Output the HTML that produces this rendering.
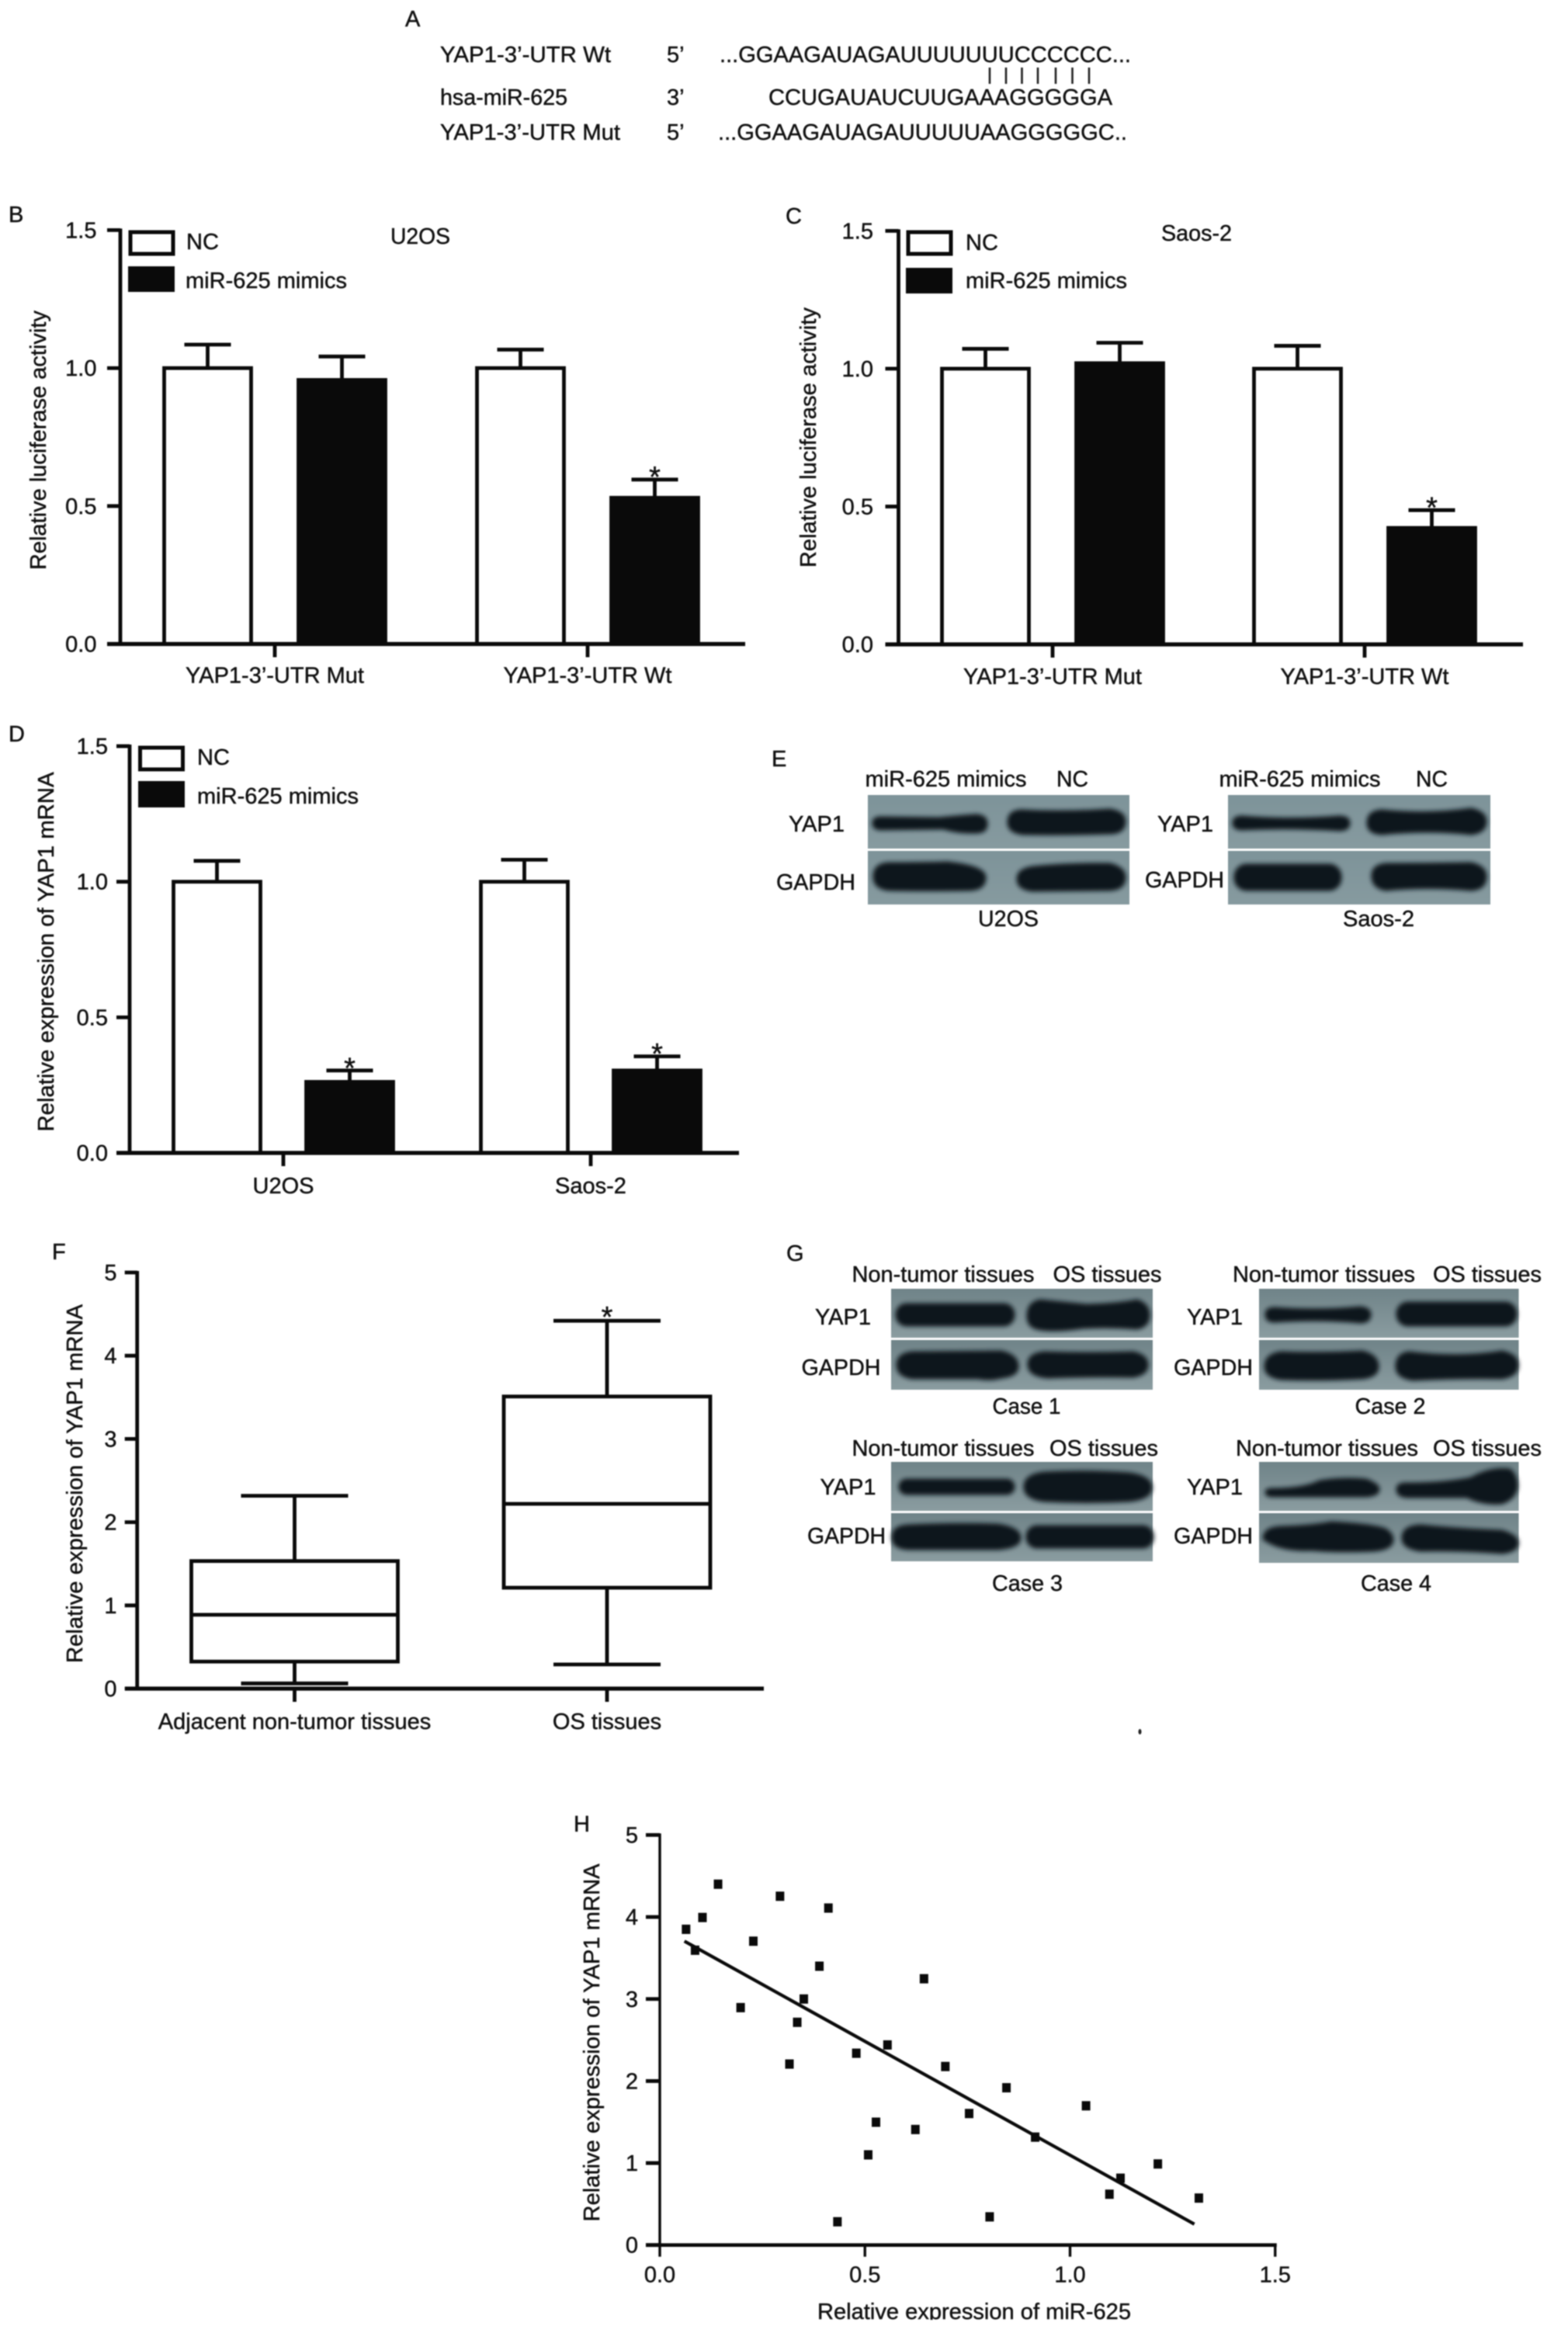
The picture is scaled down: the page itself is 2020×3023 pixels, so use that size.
<!DOCTYPE html>
<html lang="en">
<head>
<meta charset="utf-8">
<title>YAP1 and miR-625 figure</title>
<style>
html,body{margin:0;padding:0;background:#fff;}
svg{display:block;filter:blur(0.7px);}
text{font-family:"Liberation Sans",Arial,sans-serif;font-size:29px;fill:#101010;stroke:#101010;stroke-width:0.45px;}
.band{fill:#10141a;stroke:#10141a;stroke-width:3;filter:url(#soft);}
</style>
</head>
<body>
<svg id="figure" xmlns="http://www.w3.org/2000/svg" width="2020" height="3023" viewBox="0 0 2020 3023">
<defs>
<filter id="soft" x="-20%" y="-40%" width="140%" height="180%"><feGaussianBlur stdDeviation="3"/></filter>
<linearGradient id="blotE" x1="0" y1="0" x2="0" y2="1"><stop offset="0" stop-color="#7d9399"/><stop offset="1" stop-color="#869a9f"/></linearGradient>
<linearGradient id="blotG" x1="0" y1="0" x2="0" y2="1"><stop offset="0" stop-color="#6f8388"/><stop offset="1" stop-color="#8a9ca0"/></linearGradient>
</defs>
<rect width="2020" height="3023" fill="#fff"/>

<!-- Panel A -->
<g>
<text x="522" y="34">A</text>
<text x="567" y="80" textLength="220" lengthAdjust="spacingAndGlyphs">YAP1-3’-UTR Wt</text>
<text x="567" y="135" textLength="164" lengthAdjust="spacingAndGlyphs">hsa-miR-625</text>
<text x="567" y="180" textLength="232" lengthAdjust="spacingAndGlyphs">YAP1-3’-UTR Mut</text>
<text x="859" y="80">5’</text>
<text x="859" y="135">3’</text>
<text x="859" y="180">5’</text>
<text x="927" y="80" textLength="530" lengthAdjust="spacingAndGlyphs">...GGAAGAUAGAUUUUUUUCCCCCC...</text>
<text x="990" y="135" textLength="443" lengthAdjust="spacingAndGlyphs">CCUGAUAUCUUGAAAGGGGGA</text>
<text x="925" y="180" textLength="527" lengthAdjust="spacingAndGlyphs">...GGAAGAUAGAUUUUUAAGGGGGC..</text>
<path d="M1275 87V108M1296 87V108M1316.5 87V108M1337 87V108M1360 87V108M1381.5 87V108M1403 87V108" stroke="#222" stroke-width="2.6" fill="none"/>
</g>

<!-- Panel letters -->
<text x="11" y="286">B</text>
<text x="1012" y="288">C</text>
<text x="11" y="955">D</text>
<text x="994" y="987">E</text>
<text x="67" y="1622">F</text>
<text x="1013" y="1624">G</text>
<text x="739" y="2359">H</text>

<!-- Panel B static -->
<g>
<rect x="168" y="299" width="55" height="28" fill="#fff" stroke="#0a0a0a" stroke-width="5"/>
<rect x="165" y="343" width="60" height="33" fill="#0a0a0a"/>
<text x="240" y="321">NC</text>
<text x="239" y="371" textLength="208" lengthAdjust="spacingAndGlyphs">miR-625 mimics</text>
<text x="503" y="314" textLength="77" lengthAdjust="spacingAndGlyphs">U2OS</text>
<text x="59" y="567" text-anchor="middle" transform="rotate(-90 59 567)" textLength="334" lengthAdjust="spacingAndGlyphs">Relative luciferase activity</text>
</g>

<!-- Panel C static -->
<g>
<rect x="1170" y="299" width="55" height="28" fill="#fff" stroke="#0a0a0a" stroke-width="5"/>
<rect x="1167" y="345" width="60" height="33" fill="#0a0a0a"/>
<text x="1244" y="322">NC</text>
<text x="1244" y="371" textLength="208" lengthAdjust="spacingAndGlyphs">miR-625 mimics</text>
<text x="1496" y="310" textLength="91" lengthAdjust="spacingAndGlyphs">Saos-2</text>
<text x="1051" y="563.5" text-anchor="middle" transform="rotate(-90 1051 563.5)" textLength="335" lengthAdjust="spacingAndGlyphs">Relative luciferase activity</text>
</g>

<!-- Panel D static -->
<g>
<rect x="180.500" y="963" width="55" height="28" fill="#fff" stroke="#0a0a0a" stroke-width="5"/>
<rect x="178" y="1006" width="60" height="34" fill="#0a0a0a"/>
<text x="254" y="985">NC</text>
<text x="254" y="1035" textLength="208" lengthAdjust="spacingAndGlyphs">miR-625 mimics</text>
<text x="69" y="1226" text-anchor="middle" transform="rotate(-90 69 1226)" textLength="463" lengthAdjust="spacingAndGlyphs">Relative expression of YAP1 mRNA</text>
</g>

<!-- Panel E western blots -->
<g>
<text x="1114.500" y="1013" textLength="208" lengthAdjust="spacingAndGlyphs">miR-625 mimics</text>
<text x="1361" y="1013" textLength="41" lengthAdjust="spacingAndGlyphs">NC</text>
<text x="1570.500" y="1013" textLength="208" lengthAdjust="spacingAndGlyphs">miR-625 mimics</text>
<text x="1824" y="1013" textLength="41" lengthAdjust="spacingAndGlyphs">NC</text>
<text x="1016" y="1071" textLength="72" lengthAdjust="spacingAndGlyphs">YAP1</text>
<text x="1000" y="1146" textLength="102" lengthAdjust="spacingAndGlyphs">GAPDH</text>
<text x="1491" y="1071" textLength="72" lengthAdjust="spacingAndGlyphs">YAP1</text>
<text x="1475" y="1143" textLength="102" lengthAdjust="spacingAndGlyphs">GAPDH</text>
<text x="1260" y="1193" textLength="78" lengthAdjust="spacingAndGlyphs">U2OS</text>
<text x="1730" y="1193" textLength="92" lengthAdjust="spacingAndGlyphs">Saos-2</text>
<rect x="1118" y="1024" width="337" height="69" fill="url(#blotE)"/>
<rect x="1118" y="1096" width="337" height="69" fill="url(#blotE)"/>
<rect x="1582" y="1024" width="338" height="69" fill="url(#blotE)"/>
<rect x="1582" y="1096" width="338" height="69" fill="url(#blotE)"/>
<path class="band" d="M1125 1060Q1125 1053 1135 1053L1210 1054Q1240 1051 1258 1050Q1271 1051 1271 1061Q1271 1072 1258 1072Q1235 1073 1215 1067L1135 1068Q1125 1068 1125 1060Z"/>
<path class="band" d="M1299 1059Q1299 1045 1315 1044Q1370 1047 1430 1043Q1449 1046 1449 1058Q1449 1072 1432 1073Q1370 1075 1318 1074Q1299 1072 1299 1059Z"/>
<path class="band" d="M1126 1129Q1126 1113 1145 1112Q1190 1112 1220 1111Q1269 1116 1269 1130Q1269 1145 1250 1146Q1190 1147 1145 1146Q1126 1144 1126 1129Z"/>
<path class="band" d="M1311 1132Q1311 1120 1330 1117Q1380 1112 1430 1113Q1449 1118 1449 1130Q1449 1145 1430 1146L1330 1147Q1311 1145 1311 1132Z"/>
<path class="band" d="M1589 1060Q1589 1052 1600 1052Q1660 1057 1725 1052Q1738 1052 1738 1060Q1738 1069 1725 1069Q1660 1065 1600 1068Q1589 1068 1589 1060Z"/>
<path class="band" d="M1762 1060Q1762 1045 1780 1044Q1840 1050 1895 1042Q1914 1046 1914 1058Q1914 1072 1895 1074Q1840 1068 1780 1074Q1762 1073 1762 1060Z"/>
<rect class="band" x="1591" y="1114" width="136" height="32" rx="15"/>
<path class="band" d="M1768 1128Q1768 1115 1785 1113Q1840 1113 1895 1112Q1914 1116 1914 1129Q1914 1145 1895 1146Q1840 1141 1785 1146Q1768 1143 1768 1128Z"/>
</g>

<!-- Panel F static -->
<text x="106" y="1911" text-anchor="middle" transform="rotate(-90 106 1911)" textLength="462" lengthAdjust="spacingAndGlyphs">Relative expression of YAP1 mRNA</text>

<!-- Panel G western blots -->
<g>
<text x="1097.500" y="1651" textLength="235" lengthAdjust="spacingAndGlyphs">Non-tumor tissues</text>
<text x="1356.500" y="1651" textLength="140" lengthAdjust="spacingAndGlyphs">OS tissues</text>
<text x="1588" y="1651" textLength="235" lengthAdjust="spacingAndGlyphs">Non-tumor tissues</text>
<text x="1846" y="1651" textLength="140" lengthAdjust="spacingAndGlyphs">OS tissues</text>
<text x="1097.500" y="1875" textLength="235" lengthAdjust="spacingAndGlyphs">Non-tumor tissues</text>
<text x="1352" y="1875" textLength="140" lengthAdjust="spacingAndGlyphs">OS tissues</text>
<text x="1592" y="1875" textLength="235" lengthAdjust="spacingAndGlyphs">Non-tumor tissues</text>
<text x="1846" y="1875" textLength="140" lengthAdjust="spacingAndGlyphs">OS tissues</text>
<text x="1050" y="1706" textLength="72" lengthAdjust="spacingAndGlyphs">YAP1</text>
<text x="1032.500" y="1771" textLength="102" lengthAdjust="spacingAndGlyphs">GAPDH</text>
<text x="1529" y="1706" textLength="72" lengthAdjust="spacingAndGlyphs">YAP1</text>
<text x="1512" y="1771" textLength="102" lengthAdjust="spacingAndGlyphs">GAPDH</text>
<text x="1056.500" y="1925" textLength="72" lengthAdjust="spacingAndGlyphs">YAP1</text>
<text x="1040" y="1988" textLength="101" lengthAdjust="spacingAndGlyphs">GAPDH</text>
<text x="1529" y="1925" textLength="72" lengthAdjust="spacingAndGlyphs">YAP1</text>
<text x="1512" y="1988" textLength="102" lengthAdjust="spacingAndGlyphs">GAPDH</text>
<text x="1278.500" y="1821" textLength="88" lengthAdjust="spacingAndGlyphs">Case 1</text>
<text x="1745.500" y="1821" textLength="91" lengthAdjust="spacingAndGlyphs">Case 2</text>
<text x="1278" y="2049" textLength="91" lengthAdjust="spacingAndGlyphs">Case 3</text>
<text x="1753" y="2049" textLength="91" lengthAdjust="spacingAndGlyphs">Case 4</text>
<rect x="1148" y="1660" width="337" height="63" fill="url(#blotG)"/>
<rect x="1148" y="1726" width="337" height="64" fill="url(#blotG)"/>
<rect x="1622" y="1660" width="334.500" height="63" fill="url(#blotG)"/>
<rect x="1622" y="1726" width="334.500" height="64" fill="url(#blotG)"/>
<rect x="1148" y="1883" width="337" height="63" fill="url(#blotG)"/>
<rect x="1148" y="1949" width="337" height="62" fill="url(#blotG)"/>
<rect x="1622" y="1883" width="334.500" height="63" fill="url(#blotG)"/>
<rect x="1622" y="1949" width="334.500" height="64" fill="url(#blotG)"/>
<rect class="band" x="1155" y="1680" width="151" height="27" rx="13"/>
<path class="band" d="M1324 1695Q1324 1678 1340 1675Q1370 1678 1400 1681Q1440 1680 1465 1675Q1480 1680 1480 1694Q1480 1708 1465 1711Q1430 1708 1395 1710Q1360 1715 1340 1712Q1324 1710 1324 1695Z"/>
<path class="band" d="M1156 1758Q1156 1744 1175 1742L1290 1741Q1311 1746 1311 1760Q1311 1772 1290 1774Q1275 1778 1260 1775L1175 1775Q1156 1772 1156 1758Z"/>
<path class="band" d="M1325 1757Q1325 1744 1345 1742Q1400 1744 1460 1742Q1478 1746 1478 1758Q1478 1770 1460 1773Q1400 1772 1350 1774Q1325 1772 1325 1757Z"/>
<path class="band" d="M1631 1693Q1631 1685 1642 1685Q1700 1689 1752 1684Q1765 1685 1765 1693Q1765 1703 1752 1703Q1700 1698 1642 1702Q1631 1702 1631 1693Z"/>
<rect class="band" x="1800" y="1678" width="153" height="29" rx="14"/>
<path class="band" d="M1630 1760Q1630 1745 1650 1742Q1700 1744 1755 1741Q1775 1746 1775 1760Q1775 1773 1755 1775Q1700 1778 1650 1776Q1630 1773 1630 1760Z"/>
<path class="band" d="M1799 1760Q1799 1744 1815 1742Q1880 1750 1935 1741Q1955 1745 1955 1758Q1955 1772 1935 1775Q1880 1774 1820 1777Q1799 1774 1799 1760Z"/>
<rect class="band" x="1159" y="1906" width="147" height="18" rx="9"/>
<path class="band" d="M1320 1915Q1320 1900 1345 1897Q1400 1894 1455 1898Q1483 1902 1483 1916Q1483 1930 1455 1933Q1400 1936 1345 1933Q1320 1930 1320 1915Z"/>
<path class="band" d="M1150 1980Q1150 1966 1170 1965Q1230 1962 1285 1964Q1314 1968 1314 1981Q1314 1993 1285 1995L1170 1995Q1150 1994 1150 1980Z"/>
<rect class="band" x="1323" y="1966" width="162" height="27" rx="13"/>
<path class="band" d="M1631 1922Q1631 1918 1640 1918Q1680 1918 1700 1908Q1730 1903 1760 1906Q1776 1912 1776 1918Q1776 1926 1760 1927L1640 1927Q1631 1927 1631 1922Z"/>
<path class="band" d="M1800 1918Q1800 1910 1815 1911Q1860 1911 1895 1904Q1920 1890 1945 1893Q1954 1900 1954 1915Q1952 1930 1935 1936Q1910 1938 1890 1928L1815 1928Q1800 1928 1800 1918Z"/>
<path class="band" d="M1628 1982Q1628 1968 1650 1967Q1690 1966 1715 1961Q1770 1964 1785 1970Q1794 1976 1794 1983Q1794 1995 1770 1997Q1720 1999 1690 1996Q1650 1998 1628 1982Z"/>
<path class="band" d="M1807 1981Q1807 1966 1830 1965Q1880 1970 1935 1972Q1955 1978 1955 1987Q1955 1998 1935 2000Q1880 1996 1830 1997Q1807 1994 1807 1981Z"/>
</g>
<ellipse cx="1468.500" cy="2230.500" rx="2" ry="3.500" fill="#222"/>

<!-- Panel H static -->
<text x="772" y="2631" text-anchor="middle" transform="rotate(-90 772 2631)" textLength="461" lengthAdjust="spacingAndGlyphs">Relative expression of YAP1 mRNA</text>
<text x="1053" y="2987" textLength="404" lengthAdjust="spacingAndGlyphs">Relative expression of miR-625</text>
<rect x="1040" y="2988" width="430" height="20" fill="#fff"/>

<g id="charts"></g>
</svg>

<script>
// Panel B data
const categoriesB = ["YAP1-3’-UTR Mut", "YAP1-3’-UTR Wt"];
const ncB = [1.0, 1.0];
const ncUpperB = [1.085, 1.067];
const mimicsB = [0.957, 0.53];
const mimicsUpperB = [1.042, 0.596];
const starsB = [false, true];

// Panel C data
const categoriesC = ["YAP1-3’-UTR Mut", "YAP1-3’-UTR Wt"];
const ncC = [1.0, 1.0];
const ncUpperC = [1.072, 1.083];
const mimicsC = [1.02, 0.4225];
const mimicsUpperC = [1.094, 0.487];
const starsC = [false, true];

// Panel D data
const categoriesD = ["U2OS", "Saos-2"];
const ncD = [1.0, 1.0];
const ncUpperD = [1.077, 1.081];
const mimicsD = [0.262, 0.304];
const mimicsUpperD = [0.304, 0.356];
const starsD = [true, true];

// Shared bar chart ticks
const barTickValues = [0, 0.5, 1, 1.5];
const barTickLabels = ["0.0", "0.5", "1.0", "1.5"];

// Panel F data
const boxCategories = ["Adjacent non-tumor tissues", "OS tissues"];
const boxWhiskerHigh = [2.317, 4.42];
const boxQ3 = [1.533, 3.51];
const boxMedian = [0.8875, 2.22];
const boxQ1 = [0.325, 1.2125];
const boxWhiskerLow = [0.0625, 0.29];
const boxStars = [false, true];

// Panel H data
const scatterX = [0.064, 0.086, 0.104, 0.142, 0.197, 0.228, 0.293, 0.316, 0.335, 0.351, 0.389, 0.411, 0.433, 0.479, 0.508, 0.527, 0.555, 0.623, 0.644, 0.696, 0.754, 0.804, 0.845, 0.915, 1.039, 1.096, 1.123, 1.214, 1.314];
const scatterY = [3.85, 3.595, 3.994, 4.40, 2.895, 3.705, 4.253, 2.207, 2.716, 3.0, 3.40, 4.109, 0.284, 2.339, 1.10, 1.498, 2.44, 1.409, 3.247, 2.177, 1.604, 0.344, 1.918, 1.316, 1.698, 0.62, 0.815, 0.989, 0.573];
const fitLineX = [0.06, 1.303];
const fitLineY = [3.705, 0.255];
const xTickValuesH = [0, 0.5, 1, 1.5];
const xTickLabelsH = ["0.0", "0.5", "1.0", "1.5"];
const yTickValues05 = [0, 1, 2, 3, 4, 5];
const yTickLabels05 = ["0", "1", "2", "3", "4", "5"];

const SVG_NS = "http://www.w3.org/2000/svg";
const root = document.getElementById("charts");

function make(parent, tag, attrs, content) {
  const node = document.createElementNS(SVG_NS, tag);
  Object.keys(attrs).forEach(function (k) { node.setAttribute(k, attrs[k]); });
  if (content !== undefined) node.textContent = content;
  parent.appendChild(node);
  return node;
}

function line(parent, x1, y1, x2, y2, width) {
  return make(parent, "line", { x1: x1, y1: y1, x2: x2, y2: y2, stroke: "#0a0a0a", "stroke-width": width || 4.8 });
}

function drawYTicks(g, values, labels, yScale, axisX, tickLen, labelRight) {
  values.forEach(function (v, i) {
    const t = line(g, axisX - tickLen, yScale(v), axisX, yScale(v));
    
    
    const lab = make(g, "text", { x: labelRight, y: yScale(v) + 10, "text-anchor": "end" }, labels[i]);
    
    
  });
}

function drawStar(g, x, yPx, offset) {
  const s = make(g, "text", { x: x, y: yPx - offset + 22, "text-anchor": "middle", "font-size": "38", style: "font-size:38px" }, "*");
  
  
}

function drawBarSeries(g, cx, value, upper, yScale, baseY, filled) {
  const half = 56;
  const cap = line(g, cx - 30, yScale(upper), cx + 30, yScale(upper));
  
  
  const stem = line(g, cx, yScale(upper), cx, yScale(value));
  
  
  const bar = make(g, "rect", {
    x: cx - half, y: yScale(value), width: half * 2, height: baseY - yScale(value),
    fill: filled ? "#0a0a0a" : "#fff", stroke: "#0a0a0a", "stroke-width": 4.8
  });
  
  
}

function drawBarChart(name, cats, nc, ncUp, mim, mimUp, stars, o) {
  const g = make(root, "g", {});
  
  
  const yScale = function (v) { return o.y0 - v * o.yUnit; };
  cats.forEach(function (c, i) {
    const groupX = o.groups[0] + i * (o.groups[1] - o.groups[0]);
    drawBarSeries(g, groupX - o.offset, nc[i], ncUp[i], yScale, o.y0, false);
    drawBarSeries(g, groupX + o.offset, mim[i], mimUp[i], yScale, o.y0, true);
    if (stars[i]) drawStar(g, groupX + o.offset, yScale(mimUp[i]), 12.5);
    const t = line(g, groupX, o.y0, groupX, o.y0 + 17);
    
    
    const lab = make(g, "text", { x: groupX, y: o.y0 + o.labelDy, "text-anchor": "middle" }, c);
    
    
  });
  const yAxis = line(g, o.axisX, yScale(1.5) - 2, o.axisX, o.y0 + 2);
  
  
  const xAxis = line(g, o.axisX - 17, o.y0, o.xEnd, o.y0, 5.2);
  
  
  drawYTicks(g, barTickValues, barTickLabels, yScale, o.axisX, 17, o.labelRight);
}

drawBarChart("chart-b", categoriesB, ncB, ncUpperB, mimicsB, mimicsUpperB, starsB,
  { y0: 829.5, yUnit: 355.4, axisX: 155, xEnd: 960, groups: [354, 757], offset: 86.5, labelDy: 50, labelRight: 124.5 });
drawBarChart("chart-c", categoriesC, ncC, ncUpperC, mimicsC, mimicsUpperC, starsC,
  { y0: 830, yUnit: 355.1, axisX: 1157.5, xEnd: 1962, groups: [1356, 1758], offset: 86.5, labelDy: 51, labelRight: 1125 });
drawBarChart("chart-d", categoriesD, ncD, ncUpperD, mimicsD, mimicsUpperD, starsD,
  { y0: 1485, yUnit: 349.3, axisX: 167, xEnd: 952, groups: [365, 761], offset: 85.5, labelDy: 52, labelRight: 139 });

// Panel F box plot
(function () {
  const g = make(root, "g", {});
  
  
  const y0 = 2175, unit = 107.2, axisX = 176.7;
  const centers = [379.5, 782];
  const yScale = function (v) { return y0 - v * unit; };
  boxCategories.forEach(function (c, i) {
    const cx = centers[i];
    const whisker = line(g, cx, yScale(boxWhiskerHigh[i]), cx, yScale(boxWhiskerLow[i]));
    
    
    const capHigh = line(g, cx - 69, yScale(boxWhiskerHigh[i]), cx + 69, yScale(boxWhiskerHigh[i]));
    
    
    const capLow = line(g, cx - 69, yScale(boxWhiskerLow[i]), cx + 69, yScale(boxWhiskerLow[i]));
    
    
    const box = make(g, "rect", {
      x: cx - 133, y: yScale(boxQ3[i]), width: 266, height: yScale(boxQ1[i]) - yScale(boxQ3[i]),
      fill: "#fff", stroke: "#0a0a0a", "stroke-width": 4.8
    });
    
    
    const med = line(g, cx - 133, yScale(boxMedian[i]), cx + 133, yScale(boxMedian[i]));
    
    
    if (boxStars[i]) drawStar(g, cx, yScale(boxWhiskerHigh[i]), 14);
    const t = line(g, cx, y0, cx, y0 + 17);
    
    
    const lab = make(g, "text", { x: cx, y: y0 + 52, "text-anchor": "middle" }, c);
    
    
  });
  const yAxis = line(g, axisX, yScale(5) - 2, axisX, y0 + 2);
  
  
  const xAxis = line(g, 161, y0, 984, y0, 5.2);
  
  
  drawYTicks(g, yTickValues05, yTickLabels05, yScale, axisX, 16, 150.5);
})();

// Panel H scatter plot
(function () {
  const g = make(root, "g", {});
  
  
  const xScale = function (v) { return 850 + v * 528.5; };
  const yScale = function (v) { return 2891.7 - v * 105.64; };
  scatterX.forEach(function (v, i) {
    const pt = make(g, "rect", { x: xScale(v) - 5.5, y: yScale(scatterY[i]) - 6, width: 11, height: 12, fill: "#0a0a0a" });
    
    
  });
  const fit = line(g, xScale(fitLineX[0]), yScale(fitLineY[0]), xScale(fitLineX[1]), yScale(fitLineY[1]), 4.2);
  
  
  const yAxis = line(g, xScale(0), yScale(5) - 2, xScale(0), yScale(0) + 2, 3.4);
  
  
  const xAxis = line(g, 832, yScale(0), xScale(1.5) + 2, yScale(0), 4.6);
  
  
  drawYTicks(g, yTickValues05, yTickLabels05, yScale, xScale(0), 18, 822);
  xTickValuesH.forEach(function (v, i) {
    const t = line(g, xScale(v), yScale(0), xScale(v), yScale(0) + 15, 3.4);
    
    
    const lab = make(g, "text", { x: xScale(v), y: yScale(0) + 48, "text-anchor": "middle" }, xTickLabelsH[i]);
    
    
  });
})();
</script>
</body>
</html>
